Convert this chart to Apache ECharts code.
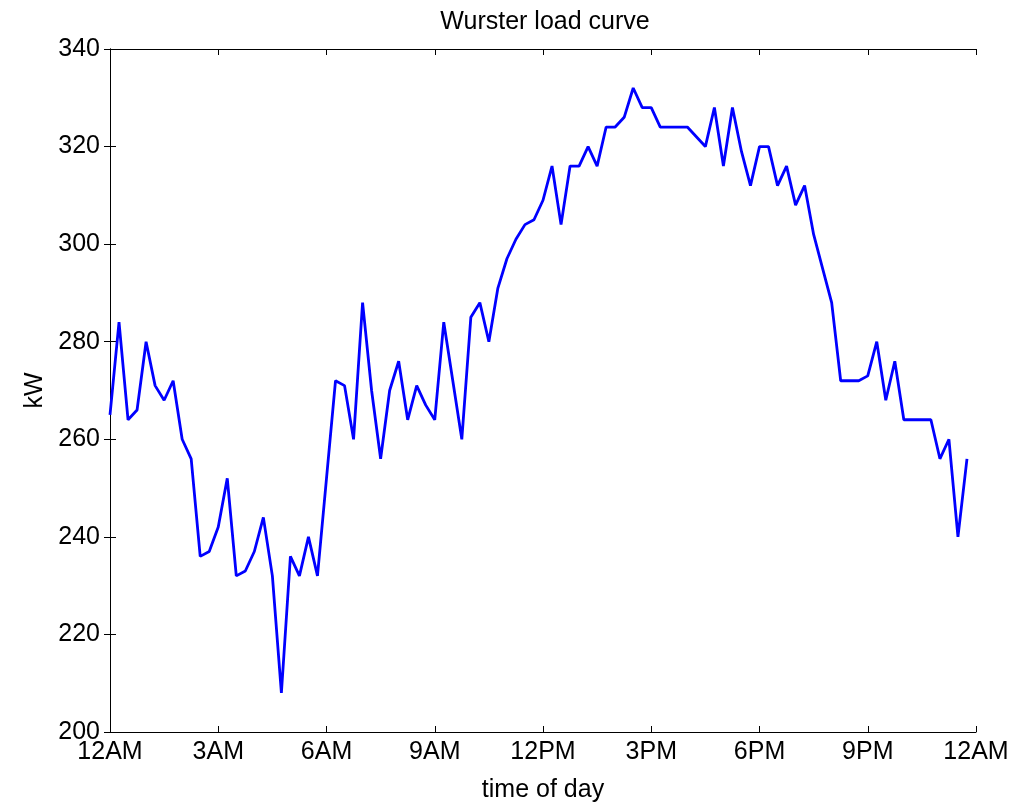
<!DOCTYPE html>
<html>
<head>
<meta charset="utf-8">
<title>Wurster load curve</title>
<script src="https://cdn.jsdelivr.net/npm/echarts@6/dist/echarts.min.js"></script>
<style>
  html, body { margin: 0; padding: 0; background: #ffffff; }
  #myChart { width: 1012px; height: 805px; }
</style>
</head>
<body>
<div id="myChart"></div>
<script>
  // 15 minute samples, from 12AM
  var stepHours = 0.25;
  var loadKw = [
    265, 284, 264, 266, 280, 271, 268, 272, 260, 256, 236, 237,
    242, 252, 232, 233, 237, 244, 232, 208, 236, 232, 240, 232,
    252, 272, 271, 260, 288, 270, 256, 270, 276, 264, 271, 267,
    264, 284, 272, 260, 285, 288, 280, 291, 297, 301, 304, 305,
    309, 316, 304, 316, 316, 320, 316, 324, 324, 326, 332, 328,
    328, 324, 324, 324, 324, 322, 320, 328, 316, 328, 319, 312,
    320, 320, 312, 316, 308, 312, 302, 295, 288, 272, 272, 272,
    273, 280, 268, 276, 264, 264, 264, 264, 256, 260, 240, 256
  ];
  var timeLabels = ['12AM', '3AM', '6AM', '9AM', '12PM', '3PM', '6PM', '9PM', '12AM'];

  var font = 'Liberation Sans, Arial, sans-serif';
  var black = '#000000';
  var fs = 25;

  var myChart = echarts.init(document.getElementById('myChart'));

  var boxAxis = {
    axisLine: {show: true, lineStyle: {color: black, width: 1}},
    axisTick: {show: true, inside: true, length: 6, lineStyle: {color: black}},
    splitLine: {show: false}
  };

  myChart.setOption({
    backgroundColor: '#ffffff',
    animation: false,
    title: {
      text: 'Wurster load curve',
      left: 540,
      textAlign: 'center',
      top: 5,
      textStyle: {fontFamily: font, fontWeight: 'normal', fontSize: fs, color: black}
    },
    grid: {left: 110, right: 36, top: 49, bottom: 73, containLabel: false, outerBoundsMode: 'none'},
    xAxis: [
      Object.assign({
        type: 'value',
        min: 0,
        max: 24,
        interval: 3,
        position: 'bottom',
        name: 'time of day',
        nameLocation: 'middle',
        nameGap: 46,
        nameTextStyle: {fontFamily: font, fontSize: fs, color: black},
        axisLabel: {
          fontFamily: font, fontSize: fs, color: black, margin: 8,
          formatter: function (v) { return timeLabels[Math.round(v / 3)]; }
        }
      }, boxAxis),
      Object.assign({
        type: 'value', min: 0, max: 24, interval: 3, position: 'top',
        axisLabel: {show: false}
      }, boxAxis)
    ],
    yAxis: [
      Object.assign({
        type: 'value',
        min: 200,
        max: 340,
        interval: 20,
        position: 'left',
        name: 'kW',
        nameLocation: 'middle',
        nameGap: 62,
        nameTextStyle: {fontFamily: font, fontSize: fs, color: black},
        axisLabel: {fontFamily: font, fontSize: fs, color: black, margin: 10}
      }, boxAxis),
      Object.assign({
        type: 'value', min: 200, max: 340, interval: 20, position: 'right',
        axisLabel: {show: false}
      }, boxAxis)
    ],
    series: [
      {
        name: 'load',
        type: 'line',
        xAxisIndex: 0,
        yAxisIndex: 0,
        showSymbol: false,
        symbol: 'none',
        lineStyle: {color: '#0000ff', width: 2.8},
        data: loadKw.map(function (v, i) { return [i * stepHours, v]; })
      }
    ]
  });
</script>
</body>
</html>
